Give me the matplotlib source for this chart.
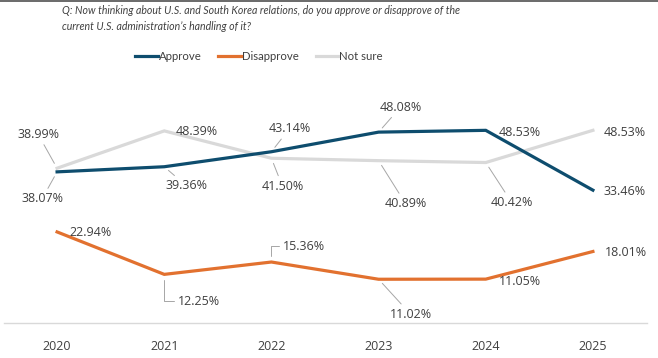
import matplotlib
matplotlib.use("Agg")
import matplotlib.pyplot as plt
from matplotlib.lines import Line2D

years = ["2020", "2021", "2022", "2023", "2024", "2025"]
approve = [38.07, 39.36, 43.14, 48.08, 48.53, 33.46]
disapprove = [22.94, 12.25, 15.36, 11.02, 11.05, 18.01]
not_sure = [38.99, 48.39, 41.50, 40.89, 40.42, 48.53]
series_names = ["Approve", "Disapprove", "Not sure"]
title_lines = ["Q: Now thinking about U.S. and South Korea relations, do you approve or disapprove of the",
               "current U.S. administration\u2019s handling of it?"]

colors = {"Approve": "#0e4d6e", "Disapprove": "#e2712f", "Not sure": "#d9d9d9"}
txt_color = "#404040"
lead_color = "#a6a6a6"
num_font = ["Open Sans", "DejaVu Sans"]
narrow_font = ["Lato", "DejaVu Sans"]

W, H = 658, 358
fig = plt.figure(figsize=(W / 100, H / 100), dpi=100)
ax = fig.add_axes([3.5 / W, 1 - 323 / H, 643 / W, 238.2 / H])

x = list(range(len(years)))
data = {"Approve": approve, "Disapprove": disapprove, "Not sure": not_sure}
order = ["Not sure", "Disapprove", "Approve"]
for name in order:
    ax.plot(x, data[name], color=colors[name], lw=2.3, solid_joinstyle="miter",
            zorder=3 if name == "Approve" else 2)

ax.set_xlim(-0.5, len(years) - 0.5)
ax.set_ylim(0, 60)
ax.set_xticks(x)
ax.set_xticklabels(years, fontsize=9, color=txt_color, family=num_font)
ax.tick_params(axis="x", length=0, pad=12)
ax.set_yticks([])
for s in ["top", "left", "right"]:
    ax.spines[s].set_visible(False)
ax.spines["bottom"].set_color("#d9d9d9")
ax.spines["bottom"].set_linewidth(1.0)

# label offsets in pixels (dx, dy) and leader style
labels = {
    "Approve": [(-15, -27, "line"), (22, -19, "line"), (18, 23, "line"),
                (22, 25, "line"), (34, -2, None), (32, -1, None)],
    "Not sure": [(-19, 34, "line"), (33, -1, None), (11, -28, "line"),
                 (27, -43, "line"), (26, -40, "line"), (32, -2, None)],
    "Disapprove": [(33, -1, None), (35, -27, "elbow"), (33, 16, "elbow"),
                   (32, -35, "line"), (34, -2, None), (33, -1, None)],
}
for name, offs in labels.items():
    for i, (dx, dy, style) in enumerate(offs):
        v = data[name][i]
        kw = dict(xy=(i, v), xytext=(dx, dy), textcoords="offset pixels",
                  ha="center", va="center", fontsize=9, color=txt_color,
                  family=num_font, zorder=5)
        if style == "line":
            kw["arrowprops"] = dict(arrowstyle="-", color=lead_color, lw=0.7,
                                    shrinkA=1, shrinkB=4)
        elif style == "elbow":
            kw["arrowprops"] = dict(arrowstyle="-", color=lead_color, lw=0.7,
                                    shrinkA=1, shrinkB=4,
                                    connectionstyle="angle,angleA=0,angleB=90,rad=0")
        ax.annotate(f"{v:.2f}%", **kw)

# title
for k, line in enumerate(title_lines):
    fig.text(62 / W, 1 - (10 + 17 * k) / H, line, ha="left", va="center", fontsize=7.6,
             style="italic", color=txt_color, family=narrow_font)

handles = [Line2D([], [], color=colors[n], lw=2.3) for n in series_names]
leg = fig.legend(handles, series_names, loc="center", bbox_to_anchor=(259 / W, 1 - 56 / H),
                 ncol=3, frameon=False, handlelength=2.0, handletextpad=0.1,
                 columnspacing=1.45, prop={"family": narrow_font, "size": 8.2})
for t in leg.get_texts():
    t.set_color(txt_color)

fig.add_artist(Line2D([0, 1], [1 - 0.5 / H, 1 - 0.5 / H], transform=fig.transFigure,
                      color="#505050", lw=1.2))

fig.savefig("out.png", dpi=100)
